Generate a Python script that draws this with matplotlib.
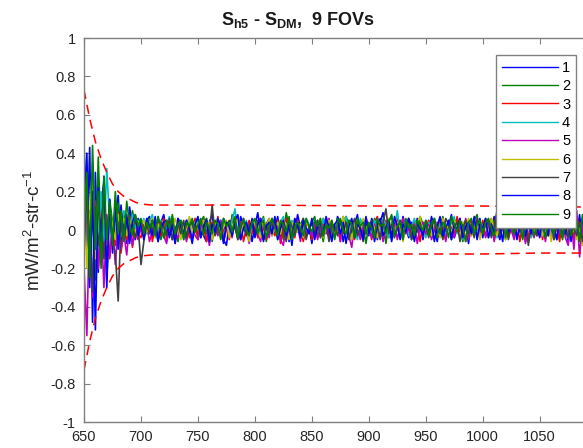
import numpy as np
import matplotlib
matplotlib.use("Agg")
import matplotlib.pyplot as plt

plt.rcParams["font.family"] = ["Liberation Sans", "DejaVu Sans"]
plt.rcParams["mathtext.fontset"] = "custom"
plt.rcParams["mathtext.rm"] = "Liberation Sans"
plt.rcParams["mathtext.bf"] = "Liberation Sans:bold"
plt.rcParams["mathtext.it"] = "Liberation Sans:italic"

# wavenumber grid (cm-1), every 2.5 cm-1, one row of values = 50 cm-1
WAVENUMBERS = np.arange(650, 1100, 2.5)

# per-FOV differences, values (mW/m2-str-cm-1)
fov1 = [0.20, -0.10, 0.43, -0.48, 0.30, -0.22, 0.12, 0.25, -0.30, 0.15, -0.12, 0.08, 0.18, -0.10, 0.05, -0.07, 0.12, 0.02, -0.05, 0.06,
        0.03, -0.02, 0.05, 0.07, -0.04, 0.01, -0.06, 0.04, 0.08, -0.01, 0.02, -0.05, -0.02, 0.06, 0.03, -0.04, 0.05, 0.00, -0.07, 0.04,
        0.06, 0.02, -0.03, -0.06, 0.04, 0.08, -0.02, 0.01, 0.05, -0.05, -0.08, 0.03, 0.06, 0.01, -0.04, 0.07, 0.02, -0.03, 0.04, -0.06,
        0.02, 0.09, -0.01, -0.05, 0.03, 0.06, -0.03, 0.00, 0.07, -0.04, 0.02, 0.05, -0.06, 0.03, -0.01, 0.08, 0.01, -0.05, 0.04, 0.02,
        -0.07, 0.03, 0.05, -0.02, 0.01, 0.06, -0.04, 0.02, -0.03, 0.07, 0.04, -0.06, 0.01, 0.05, -0.02, 0.03, 0.08, -0.04, 0.00, 0.05,
        -0.03, 0.06, 0.02, -0.05, 0.04, 0.09, -0.01, 0.03, -0.06, 0.02, 0.05, -0.03, 0.07, 0.01, -0.04, 0.04, -0.02, 0.06, 0.03, -0.05,
        0.04, -0.02, 0.07, 0.01, -0.06, 0.03, 0.05, -0.03, 0.02, 0.08, -0.04, 0.01, 0.06, -0.02, 0.03, -0.07, 0.04, 0.02, -0.01, 0.06,
        -0.04, 0.05, 0.02, -0.03, 0.07, 0.00, -0.05, 0.04, 0.06, -0.02, 0.03, 0.08, -0.04, 0.01, 0.05, -0.06, 0.02, 0.07, -0.01, 0.04,
        0.06, -0.03, 0.02, 0.09, -0.05, 0.03, 0.01, -0.04, 0.07, 0.02, -0.06, 0.05, 0.03, -0.02, 0.08, -0.07, 0.04, 0.09, -0.05, 0.02]
fov2 = [0.08, 0.28, -0.15, 0.10, -0.26, 0.38, -0.05, 0.22, -0.12, 0.16, 0.04, -0.08, 0.14, -0.03, 0.09, 0.01, -0.06, 0.10, 0.03, -0.02,
        0.05, -0.04, 0.02, 0.06, 0.01, -0.03, 0.07, -0.05, 0.03, 0.04, -0.02, 0.08, 0.00, -0.06, 0.05, 0.02, -0.03, 0.06, -0.01, 0.03,
        -0.05, 0.04, 0.07, -0.02, 0.03, -0.06, 0.05, 0.01, -0.03, 0.06, 0.02, -0.04, 0.08, 0.03, -0.05, 0.01, 0.06, -0.02, 0.04, 0.00,
        0.05, -0.03, 0.02, 0.07, -0.06, 0.03, 0.01, 0.06, -0.02, 0.04, -0.05, 0.09, 0.02, -0.03, 0.05, -0.01, 0.03, 0.06, -0.04, 0.01,
        0.04, 0.07, -0.03, 0.02, -0.06, 0.05, 0.01, 0.03, -0.04, 0.06, 0.00, -0.02, 0.07, 0.03, -0.05, 0.04, -0.01, 0.05, 0.02, -0.07,
        0.03, -0.01, 0.06, 0.02, -0.04, 0.05, -0.07, 0.04, 0.08, -0.02, 0.01, 0.05, -0.03, 0.03, 0.06, -0.05, 0.02, -0.01, 0.07, 0.03,
        -0.03, 0.05, 0.01, 0.06, -0.04, 0.02, 0.07, -0.02, 0.04, -0.05, 0.03, 0.06, 0.01, -0.06, 0.04, 0.02, -0.03, 0.05, 0.08, -0.02,
        0.02, 0.06, -0.04, 0.03, 0.05, -0.02, 0.07, 0.01, -0.05, 0.04, 0.02, -0.03, 0.06, 0.03, -0.01, 0.05, -0.06, 0.04, 0.01, 0.06,
        -0.02, 0.04, 0.07, -0.03, 0.05, 0.01, -0.05, 0.06, 0.03, -0.02, 0.08, 0.02, -0.04, 0.05, 0.00, 0.06, -0.03, 0.04, 0.02, -0.01]
fov3 = [-0.12, 0.08, -0.18, 0.10, -0.06, -0.20, 0.12, -0.10, 0.06, -0.15, 0.03, -0.08, 0.09, -0.12, 0.02, -0.05, 0.07, -0.09, 0.04, -0.02,
        -0.04, 0.03, -0.01, 0.05, -0.06, 0.02, 0.04, -0.03, 0.06, -0.05, 0.01, 0.03, -0.07, 0.04, 0.02, -0.02, 0.05, -0.04, 0.01, 0.06,
        -0.03, 0.02, 0.05, -0.06, 0.01, 0.04, -0.02, 0.07, -0.04, 0.00, 0.03, -0.05, 0.06, 0.02, -0.03, 0.04, -0.06, 0.01, 0.05, -0.02,
        0.03, -0.04, 0.06, 0.01, -0.05, 0.02, 0.04, -0.03, 0.05, -0.07, 0.02, 0.06, -0.01, 0.03, -0.04, 0.05, 0.00, -0.06, 0.04, 0.02,
        -0.05, 0.04, 0.01, -0.03, 0.06, 0.02, -0.04, 0.05, -0.01, 0.03, -0.06, 0.07, 0.02, -0.02, 0.04, -0.05, 0.03, 0.01, -0.04, 0.06,
        0.02, -0.05, 0.04, 0.07, -0.03, 0.01, 0.05, -0.04, 0.02, -0.02, 0.06, 0.03, -0.05, 0.04, 0.00, -0.03, 0.05, 0.02, -0.06, 0.04,
        0.01, 0.05, -0.04, 0.03, -0.02, 0.06, 0.02, -0.05, 0.04, 0.01, -0.03, 0.07, -0.01, 0.04, -0.06, 0.03, 0.05, -0.02, 0.02, -0.04,
        0.05, -0.03, 0.02, 0.06, -0.05, 0.03, -0.01, 0.04, 0.07, -0.04, 0.01, -0.02, 0.05, -0.06, 0.03, 0.02, -0.04, 0.06, 0.00, -0.03,
        0.04, -0.05, 0.06, 0.02, -0.03, 0.05, 0.01, -0.06, 0.08, 0.03, -0.02, 0.04, -0.05, 0.07, 0.01, -0.04, 0.05, -0.02, 0.06, 0.00]
fov4 = [0.44, 0.10, -0.18, 0.25, 0.05, -0.12, 0.20, -0.06, 0.32, 0.04, -0.05, 0.14, 0.02, -0.03, 0.10, 0.06, -0.04, 0.08, 0.01, 0.05,
        0.02, 0.06, -0.02, 0.04, 0.08, -0.03, 0.01, 0.05, -0.04, 0.03, 0.07, 0.00, -0.02, 0.05, 0.02, -0.05, 0.04, 0.06, -0.01, 0.03,
        0.05, -0.02, 0.03, 0.06, -0.04, 0.02, 0.04, 0.01, -0.03, 0.06, 0.03, -0.01, 0.05, 0.11, -0.02, 0.03, 0.00, 0.05, -0.04, 0.02,
        0.04, 0.01, -0.03, 0.06, 0.02, -0.02, 0.05, 0.03, -0.05, 0.04, 0.07, -0.01, 0.02, 0.05, -0.03, 0.04, 0.01, -0.02, 0.06, 0.03,
        -0.02, 0.05, 0.03, -0.04, 0.06, 0.01, 0.04, -0.03, 0.02, 0.05, -0.01, 0.03, 0.07, -0.02, 0.04, 0.00, -0.05, 0.06, 0.02, 0.04,
        0.03, -0.03, 0.05, 0.02, -0.01, 0.06, 0.03, -0.04, 0.04, 0.01, 0.10, -0.02, 0.03, 0.05, -0.03, 0.02, 0.06, -0.01, 0.04, 0.02,
        -0.04, 0.04, 0.02, 0.06, -0.02, 0.03, 0.05, -0.03, 0.01, 0.04, 0.07, -0.02, 0.03, -0.05, 0.05, 0.02, 0.00, 0.06, -0.03, 0.04,
        0.02, 0.05, -0.02, 0.03, 0.01, -0.04, 0.06, 0.03, -0.01, 0.05, 0.02, -0.03, 0.04, 0.10, -0.02, 0.03, 0.05, -0.04, 0.02, 0.06,
        0.01, -0.03, 0.04, 0.06, -0.02, 0.03, 0.00, 0.05, -0.04, 0.02, 0.06, -0.01, 0.04, 0.02, -0.05, 0.03, 0.06, -0.02, 0.01, 0.04]
fov5 = [-0.20, -0.55, 0.10, -0.35, 0.15, -0.20, 0.05, -0.30, 0.08, -0.14, 0.02, -0.18, 0.04, -0.10, -0.02, -0.13, 0.03, -0.08, -0.01, -0.05,
        0.01, -0.04, 0.03, -0.06, 0.00, 0.02, -0.05, 0.04, -0.03, -0.07, 0.02, 0.05, -0.02, -0.04, 0.03, 0.01, -0.06, 0.02, 0.04, -0.03,
        -0.05, 0.02, -0.01, 0.04, -0.08, 0.01, 0.03, -0.03, 0.05, -0.06, 0.00, 0.02, -0.04, 0.06, -0.02, -0.05, 0.03, 0.01, -0.07, 0.02,
        0.03, -0.02, -0.06, 0.04, 0.01, -0.04, 0.05, -0.01, 0.02, -0.05, -0.08, 0.03, 0.00, -0.03, 0.04, 0.02, -0.06, 0.05, -0.02, 0.01,
        -0.03, 0.04, -0.05, 0.01, 0.03, -0.02, 0.06, -0.04, -0.01, 0.02, -0.06, 0.04, 0.01, -0.03, -0.09, 0.03, 0.02, -0.05, 0.04, -0.02,
        0.01, -0.04, 0.03, -0.02, 0.05, -0.06, 0.00, 0.03, -0.03, 0.04, -0.05, 0.02, 0.06, -0.02, 0.01, -0.04, 0.03, -0.07, 0.02, 0.04,
        -0.02, 0.03, -0.05, 0.01, 0.04, -0.03, 0.02, -0.06, 0.05, 0.00, -0.04, 0.03, 0.01, -0.02, 0.06, -0.05, 0.02, -0.03, 0.04, -0.01,
        0.03, -0.04, 0.01, 0.05, -0.06, 0.02, -0.02, 0.04, -0.03, 0.06, 0.00, -0.05, 0.03, -0.01, 0.02, -0.07, 0.04, 0.01, -0.04, 0.03,
        -0.03, 0.02, -0.06, 0.04, 0.01, -0.05, 0.03, -0.02, 0.05, -0.04, -0.08, 0.06, -0.10, 0.10, -0.14, 0.04, -0.15, 0.08, -0.12, 0.03]
fov6 = [0.25, -0.20, 0.05, 0.35, -0.15, 0.18, -0.04, 0.10, -0.08, 0.12, 0.02, -0.05, 0.08, 0.00, 0.06, -0.03, 0.05, 0.02, -0.02, 0.04,
        0.03, 0.05, -0.01, 0.02, 0.06, -0.04, 0.03, 0.01, -0.02, 0.05, 0.04, -0.03, 0.06, 0.02, -0.05, 0.03, 0.01, 0.07, -0.02, 0.04,
        0.02, -0.03, 0.05, 0.01, 0.04, -0.05, 0.03, 0.06, -0.02, 0.02, 0.05, -0.04, 0.01, 0.03, 0.07, -0.03, 0.04, 0.00, -0.06, 0.05,
        0.03, 0.00, -0.04, 0.05, 0.02, 0.06, -0.03, 0.01, 0.04, -0.02, 0.05, 0.03, -0.05, 0.02, 0.06, -0.01, 0.03, -0.04, 0.05, 0.01,
        0.04, -0.02, 0.03, 0.06, -0.04, 0.01, 0.05, 0.02, -0.03, 0.04, 0.00, 0.07, -0.02, 0.03, -0.05, 0.04, 0.02, -0.01, 0.06, 0.03,
        -0.02, 0.04, 0.01, -0.04, 0.05, 0.03, -0.02, 0.06, 0.01, -0.03, 0.04, 0.02, -0.06, 0.05, 0.03, 0.00, -0.02, 0.04, 0.07, -0.03,
        0.03, 0.01, -0.03, 0.05, 0.02, -0.04, 0.06, 0.00, 0.03, -0.02, 0.05, 0.01, -0.04, 0.04, 0.02, 0.06, -0.03, 0.01, 0.05, -0.05,
        0.02, 0.04, -0.02, 0.06, 0.01, -0.03, 0.03, 0.05, -0.05, 0.02, 0.04, -0.01, 0.06, 0.03, -0.04, 0.02, 0.00, 0.05, -0.02, 0.03,
        0.05, -0.03, 0.02, 0.04, -0.06, 0.03, 0.01, 0.05, -0.02, 0.04, -0.04, 0.02, 0.06, -0.05, 0.03, -0.08, 0.05, 0.01, -0.06, 0.03]
fov7 = [-0.10, 0.18, -0.05, -0.32, 0.12, -0.08, 0.06, -0.15, 0.02, 0.08, -0.06, -0.12, -0.37, 0.04, -0.05, 0.06, -0.02, 0.03, -0.04, 0.02,
        -0.18, -0.06, 0.03, -0.02, 0.05, 0.01, -0.04, 0.04, 0.02, -0.03, 0.06, -0.05, 0.01, 0.03, -0.02, 0.05, -0.04, 0.02, 0.04, -0.01,
        0.03, -0.04, 0.02, 0.06, -0.02, 0.13, -0.03, 0.01, 0.04, -0.06, 0.02, 0.05, -0.02, 0.03, -0.05, 0.01, 0.06, -0.03, 0.02, 0.04,
        -0.03, 0.05, 0.01, -0.05, 0.03, -0.02, 0.06, 0.02, -0.04, 0.04, 0.00, -0.06, 0.05, 0.02, -0.03, 0.04, -0.01, 0.06, -0.05, 0.02,
        0.03, -0.02, 0.05, -0.04, 0.01, 0.04, -0.06, 0.03, 0.02, -0.03, 0.05, -0.01, 0.04, -0.05, 0.02, 0.06, -0.03, 0.01, -0.06, 0.04,
        0.01, 0.05, -0.03, 0.02, -0.05, 0.04, 0.11, -0.02, 0.03, -0.04, 0.01, 0.05, -0.02, 0.03, 0.06, -0.05, 0.02, -0.01, 0.04, -0.03,
        0.04, -0.04, 0.02, 0.05, -0.02, 0.01, -0.05, 0.06, 0.03, -0.03, 0.02, 0.04, -0.06, 0.01, 0.05, -0.02, 0.03, -0.04, 0.06, 0.01,
        -0.02, 0.03, 0.05, -0.04, 0.02, 0.10, -0.03, 0.01, 0.04, -0.05, 0.03, -0.02, 0.06, 0.01, -0.04, 0.05, -0.08, 0.02, 0.04, -0.03,
        0.02, 0.05, -0.03, 0.01, 0.04, -0.05, 0.03, 0.06, -0.02, 0.02, -0.04, 0.05, 0.01, -0.03, 0.04, -0.06, 0.02, 0.05, -0.03, 0.01]
fov8 = [0.15, 0.40, -0.30, 0.20, -0.52, 0.22, -0.10, 0.28, -0.26, 0.16, -0.08, 0.12, -0.10, 0.13, -0.05, 0.08, -0.07, 0.04, 0.08, -0.03,
        0.04, -0.05, 0.06, 0.02, -0.03, 0.07, -0.06, 0.01, 0.04, 0.05, -0.04, 0.03, -0.07, 0.06, 0.02, -0.02, 0.05, 0.01, -0.05, 0.03,
        0.07, -0.04, 0.02, 0.05, -0.06, 0.03, -0.01, 0.06, 0.01, -0.07, 0.04, 0.02, -0.03, 0.05, 0.08, -0.05, 0.01, 0.04, -0.02, 0.06,
        -0.04, 0.03, 0.06, -0.06, 0.02, 0.04, -0.02, 0.07, -0.05, 0.01, 0.05, -0.03, 0.03, -0.08, 0.06, 0.02, -0.04, 0.05, 0.01, -0.02,
        0.06, -0.05, 0.02, 0.04, -0.03, 0.07, 0.01, -0.06, 0.03, 0.05, -0.02, 0.04, -0.07, 0.02, 0.06, -0.04, 0.03, 0.01, -0.05, 0.07,
        -0.02, 0.04, -0.06, 0.03, 0.06, -0.03, 0.01, 0.05, -0.04, 0.07, 0.02, -0.05, 0.03, -0.01, 0.06, 0.02, -0.06, 0.04, 0.01, -0.03,
        0.05, -0.02, 0.04, -0.06, 0.02, 0.07, -0.03, 0.01, 0.05, -0.05, 0.03, 0.00, 0.06, -0.04, 0.02, 0.04, -0.02, 0.07, -0.05, 0.03,
        0.01, 0.06, -0.04, 0.03, -0.02, 0.05, 0.02, -0.06, 0.08, -0.01, 0.03, 0.05, -0.05, 0.02, 0.06, -0.03, 0.04, -0.02, 0.07, 0.01,
        -0.04, 0.06, 0.02, -0.03, 0.08, 0.01, -0.05, 0.07, 0.03, -0.02, 0.05, -0.06, 0.09, 0.02, -0.04, 0.06, 0.01, -0.08, 0.05, 0.02]
fov9 = [0.05, 0.30, -0.25, 0.44, -0.10, 0.20, -0.20, 0.28, -0.05, 0.15, -0.08, 0.20, -0.02, 0.10, -0.06, 0.15, 0.03, -0.03, 0.08, 0.02,
        0.06, -0.02, 0.04, 0.01, 0.05, -0.03, 0.07, 0.02, -0.04, 0.05, 0.01, 0.06, -0.02, 0.03, 0.05, -0.05, 0.04, 0.02, 0.06, -0.01,
        0.03, 0.06, -0.03, 0.04, 0.01, -0.02, 0.05, 0.03, -0.05, 0.06, 0.02, 0.04, -0.01, 0.07, -0.04, 0.03, 0.05, 0.00, -0.03, 0.04,
        0.06, -0.02, 0.03, 0.05, -0.04, 0.02, 0.06, 0.01, -0.03, 0.05, 0.03, -0.01, 0.07, -0.05, 0.02, 0.04, 0.01, -0.03, 0.06, 0.02,
        -0.01, 0.05, 0.02, 0.06, -0.03, 0.03, 0.01, 0.05, -0.05, 0.04, 0.06, 0.00, -0.02, 0.05, 0.03, -0.04, 0.06, 0.02, 0.04, -0.02,
        0.04, 0.01, -0.04, 0.06, 0.02, 0.03, -0.02, 0.05, 0.07, -0.03, 0.02, 0.04, -0.05, 0.06, 0.01, 0.03, -0.03, 0.05, 0.02, 0.00,
        0.05, -0.03, 0.03, 0.06, 0.01, -0.02, 0.04, 0.02, -0.04, 0.07, 0.03, -0.01, 0.05, 0.02, -0.06, 0.04, 0.06, -0.02, 0.03, 0.05,
        -0.02, 0.04, 0.06, 0.01, -0.03, 0.05, 0.02, 0.07, -0.04, 0.03, 0.05, -0.02, 0.02, 0.06, -0.05, 0.04, 0.01, 0.05, -0.03, 0.02,
        0.06, 0.02, -0.04, 0.05, 0.03, -0.02, 0.07, 0.01, -0.05, 0.04, 0.06, -0.03, 0.02, 0.05, -0.06, 0.08, 0.01, -0.04, 0.06, 0.03]

FOV_SERIES = [fov1, fov2, fov3, fov4, fov5, fov6, fov7, fov8, fov9]
FOV_LABELS = ["1", "2", "3", "4", "5", "6", "7", "8", "9"]

# noise envelope (red dashed)
env_x = [650, 655, 660, 665, 670, 675, 680, 685, 690, 695, 700, 710,
         750, 800, 900, 1000, 1050, 1095]
env_upper = [0.73, 0.58, 0.46, 0.37, 0.30, 0.24, 0.20, 0.175, 0.16, 0.145,
             0.135, 0.13, 0.13, 0.13, 0.125, 0.125, 0.12, 0.12]
env_lower = [-0.73, -0.58, -0.46, -0.37, -0.30, -0.24, -0.20, -0.175, -0.16, -0.145,
             -0.135, -0.13, -0.13, -0.13, -0.125, -0.125, -0.12, -0.12]

X_TICKS = [650, 700, 750, 800, 850, 900, 950, 1000, 1050]
Y_TICKS = [-1, -0.8, -0.6, -0.4, -0.2, 0, 0.2, 0.4, 0.6, 0.8, 1]
Y_TICK_LABELS = ["-1", "-0.8", "-0.6", "-0.4", "-0.2", "0", "0.2", "0.4", "0.6", "0.8", "1"]

# old MATLAB colour order, cycled
COLORS = [(0, 0, 1), (0, 0.5, 0), (1, 0, 0), (0, 0.75, 0.75), (0.75, 0, 0.75),
          (0.75, 0.75, 0), (0.25, 0.25, 0.25)]

for s in FOV_SERIES:
    assert len(s) == len(WAVENUMBERS), len(s)

W, H = 583, 448
fig = plt.figure(figsize=(W / 100, H / 100), dpi=100)
# axes run past the right edge of the picture (reference is cropped)
left, right, top, bottom = 84, 591, 38, 422
ax = fig.add_axes([left / W, 1 - bottom / H, (right - left) / W, (bottom - top) / H])

for i, (vals, lab) in enumerate(zip(FOV_SERIES, FOV_LABELS)):
    ax.plot(WAVENUMBERS, vals, color=COLORS[i % len(COLORS)], lw=1.2, label=lab)

ax.plot(env_x, env_upper, color="red", lw=1.1, dashes=(6, 4))
ax.plot(env_x, env_lower, color="red", lw=1.1, dashes=(6, 4))

ax.set_xlim(650, 1095)
ax.set_ylim(-1, 1)
ax.set_xticks(X_TICKS)
ax.set_yticks(Y_TICKS)
ax.set_yticklabels(Y_TICK_LABELS)

grey = (0.5, 0.5, 0.5)
txt = (0.15, 0.15, 0.15)
for sp in ax.spines.values():
    sp.set_color(grey)
    sp.set_linewidth(1.0)
ax.tick_params(direction="in", top=True, right=True, length=4, color=grey,
               labelsize=10.5, labelcolor=txt)
ax.tick_params(axis="x", pad=6)
ax.tick_params(axis="y", pad=6)

# label anchor is its right edge once rotated
ax.set_ylabel(r"mW/m$^2$-str-c$^{-1}$", fontsize=13.5, color=txt)
ax.yaxis.set_label_coords((44 - left) / (right - left), 0.5)

fig.text(298 / W, 1 - 20 / H, r"S$_{\mathbf{h5}}$ - S$_{\mathbf{DM}}$,  9 FOVs",
         ha="center", va="center", fontsize=13, fontweight="bold", color=(0.1, 0.1, 0.1))

leg = ax.legend(loc="upper right", bbox_to_anchor=(576 / W, 1 - 55 / H),
                bbox_transform=fig.transFigure, borderaxespad=0, fontsize=10.5,
                handlelength=3.8, labelspacing=0.3, handletextpad=0.3,
                borderpad=0.4, fancybox=False, framealpha=1)
leg.get_frame().set_edgecolor(grey)
leg.get_frame().set_linewidth(1.0)
for h in leg.get_lines():
    h.set_linewidth(1.0)

fig.savefig("out.png", dpi=100)
